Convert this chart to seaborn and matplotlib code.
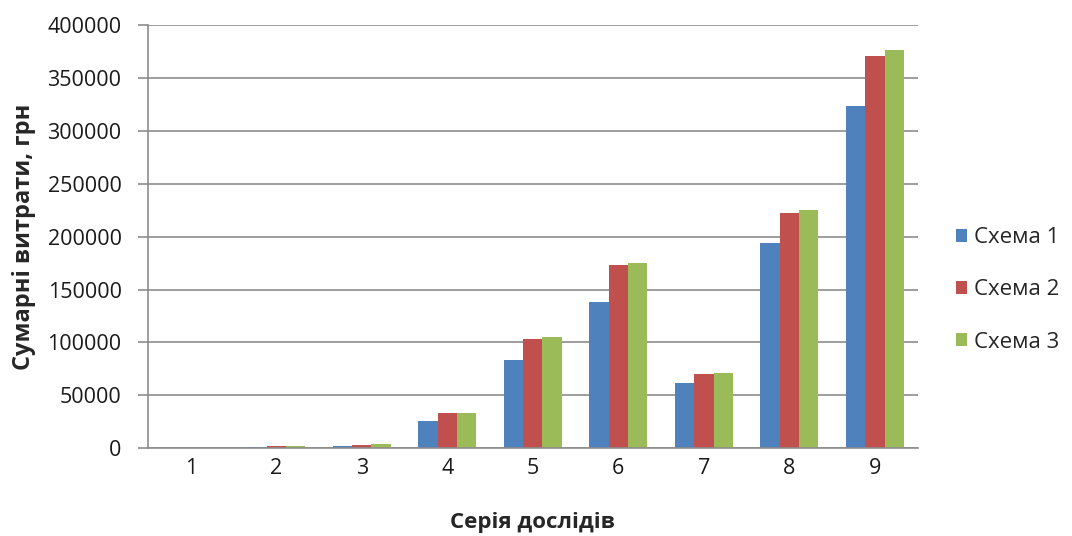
import pandas as pd
import matplotlib.pyplot as plt
import seaborn as sns

# Дані
series = ['1', '2', '3', '4', '5', '6', '7', '8', '9']
scheme_1 = [200, 1200, 2200, 25800, 83200, 138300, 61200, 193600, 323400]
scheme_2 = [300, 1600, 2800, 32800, 103400, 173000, 70000, 222600, 371300]
scheme_3 = [300, 1600, 3800, 32800, 104700, 175200, 71200, 225000, 376400]
scheme_names = ['Схема 1', 'Схема 2', 'Схема 3']
colors = ['#4F81BD', '#C0504D', '#9BBB59']

df = pd.DataFrame({'Серія': series,
                   scheme_names[0]: scheme_1,
                   scheme_names[1]: scheme_2,
                   scheme_names[2]: scheme_3})
df_long = df.melt(id_vars='Серія', var_name='Схема', value_name='Витрати')

sns.set_style('white')
plt.rcParams['font.family'] = ['Open Sans', 'DejaVu Sans']

fig = plt.figure(figsize=(10.72, 5.36), dpi=100)
ax = fig.add_axes([0.138, 0.164, 0.718, 0.789])

sns.barplot(data=df_long, x='Серія', y='Витрати', hue='Схема',
            palette=colors, width=0.68, saturation=1, linewidth=0, ax=ax)

ax.set_ylim(0, 400000)
ax.set_yticks(range(0, 400001, 50000))
ax.yaxis.grid(True, color='#8c8c8c', linewidth=1.2)
ax.set_axisbelow(True)
ax.tick_params(axis='both', labelsize=15.5, colors='#1a1a1a')
ax.tick_params(axis='y', length=7, width=1.2, color='#8c8c8c', pad=12, left=True)
ax.tick_params(axis='x', length=0, pad=7)

for side in ['top', 'right']:
    ax.spines[side].set_visible(False)
ax.spines['left'].set_color('#8c8c8c')
ax.spines['left'].set_linewidth(1.2)
ax.spines['bottom'].set_color('#8c8c8c')
ax.spines['bottom'].set_linewidth(1.2)

ax.set_xlabel('Серія дослідів', fontsize=16, fontweight='bold', labelpad=24)
ax.set_ylabel('Сумарні витрати, грн', fontsize=17, fontweight='bold', labelpad=8)

ax.legend(title=None, loc='center left', bbox_to_anchor=(0.892, 0.459),
          bbox_transform=fig.transFigure, frameon=False, fontsize=16,
          handlelength=0.5, handleheight=0.55, handletextpad=0.3,
          labelspacing=1.4, borderpad=0, borderaxespad=0)

fig.savefig('out.png', dpi=100)
